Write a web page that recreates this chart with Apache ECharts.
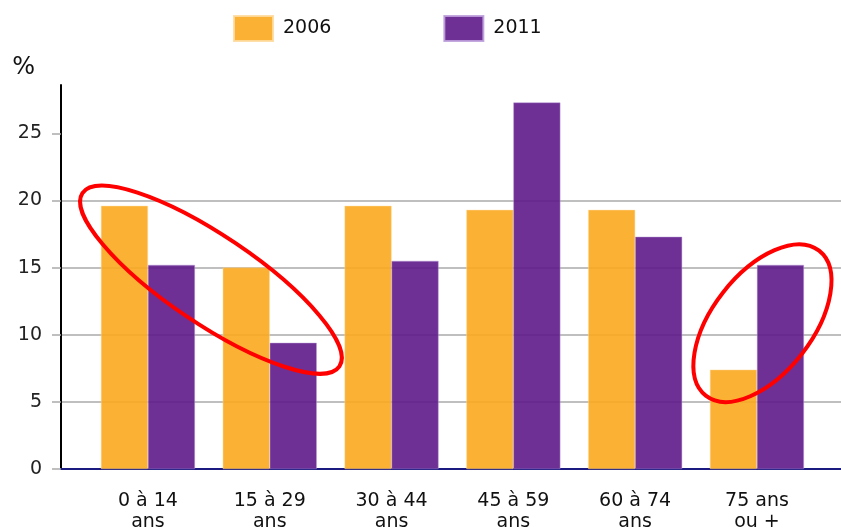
<!DOCTYPE html>
<html><head><meta charset="utf-8">
<script src="https://cdn.jsdelivr.net/npm/echarts@6/dist/echarts.min.js"></script>
<style>html,body{margin:0;padding:0;background:#fff}#c{width:841px;height:531px}</style>
</head><body><div id="c"></div>
<script>
const categories = ['0 à 14\nans', '15 à 29\nans', '30 à 44\nans', '45 à 59\nans', '60 à 74\nans', '75 ans\nou +'];
const seriesNames = ['2006', '2011'];
const values2006 = [19.6, 15.0, 19.6, 19.3, 19.3, 7.4];
const values2011 = [15.2, 9.4, 15.5, 27.3, 17.3, 15.2];
const yTicks = [0, 5, 10, 15, 20, 25];
const xPositions = categories.map((c, i) => i);
// annotation ellipses (centre in data units: category position, %)
const annotationCentres = [[0.517, 14.1], [5.045, 10.86]];

const FONT = 'DejaVu Sans';
const chart = echarts.init(document.getElementById('c'), null, {renderer: 'canvas'});
chart.setOption({
  animation: false,
  backgroundColor: '#fff',
  textStyle: {fontFamily: FONT},
  legend: {
    data: seriesNames,
    left: 233, top: 15, padding: 0,
    itemWidth: 39, itemHeight: 25, itemGap: 112,
    icon: 'rect',
    textStyle: {fontFamily: FONT, fontSize: 19, color: '#111', padding: [4, 0, 0, 5]}
  },
  grid: {left: 61, right: 0, top: 85, bottom: 62, containLabel: false, outerBoundsMode: 'none'},
  xAxis: {
    type: 'value', min: -0.714, max: 5.69,
    splitLine: {show: false},
    axisTick: {show: false},
    axisLine: {show: true, onZero: false, lineStyle: {color: '#1a1a80', width: 2}},
    axisLabel: {
      customValues: xPositions,
      formatter: v => categories[Math.round(v)] || '',
      fontFamily: FONT, fontSize: 19, color: '#111', lineHeight: 21, margin: 22,
      showMinLabel: true, showMaxLabel: true
    }
  },
  yAxis: {
    type: 'value', min: 0, max: 28.6, interval: 5,
    name: '%', nameLocation: 'end', nameGap: 5,
    nameTextStyle: {fontFamily: FONT, fontSize: 24, color: '#111', align: 'right', padding: [0, 26, 0, 0]},
    axisLine: {show: true, onZero: false, lineStyle: {color: '#000', width: 2}},
    axisTick: {show: true, length: 9, customValues: yTicks, lineStyle: {color: '#aaa', width: 1.5}},
    axisLabel: {customValues: yTicks, fontFamily: FONT, fontSize: 19, color: '#222', margin: 19},
    splitLine: {show: true, showMaxLine: false, lineStyle: {color: '#aaa', width: 1.5}}
  },
  series: [
    {name: seriesNames[0], type: 'bar', barWidth: 47, barGap: '0%',
     itemStyle: {color: 'rgba(251,169,29,0.9)', borderColor: 'rgba(255,220,160,0.9)', borderWidth: 0.5},
     data: values2006.map((v, i) => [xPositions[i], v])},
    {name: seriesNames[1], type: 'bar', barWidth: 47, barGap: '0%',
     itemStyle: {color: 'rgba(94,25,138,0.9)', borderColor: 'rgba(190,160,220,0.9)', borderWidth: 0.5},
     data: values2011.map((v, i) => [xPositions[i], v])}
  ]
});

const ellipseShapes = [{rx: 155, ry: 44, rot: -34}, {rx: 92, ry: 50, rot: 52}];
const graphics = annotationCentres.map((c, k) => {
  const p = chart.convertToPixel({gridIndex: 0}, c);
  const s = ellipseShapes[k];
  return {
    type: 'ellipse', x: p[0], y: p[1], rotation: s.rot * Math.PI / 180,
    shape: {cx: 0, cy: 0, rx: s.rx, ry: s.ry},
    style: {fill: 'none', stroke: '#ff0000', lineWidth: 4},
    z: 100
  };
});
chart.setOption({graphic: graphics});
</script></body></html>
